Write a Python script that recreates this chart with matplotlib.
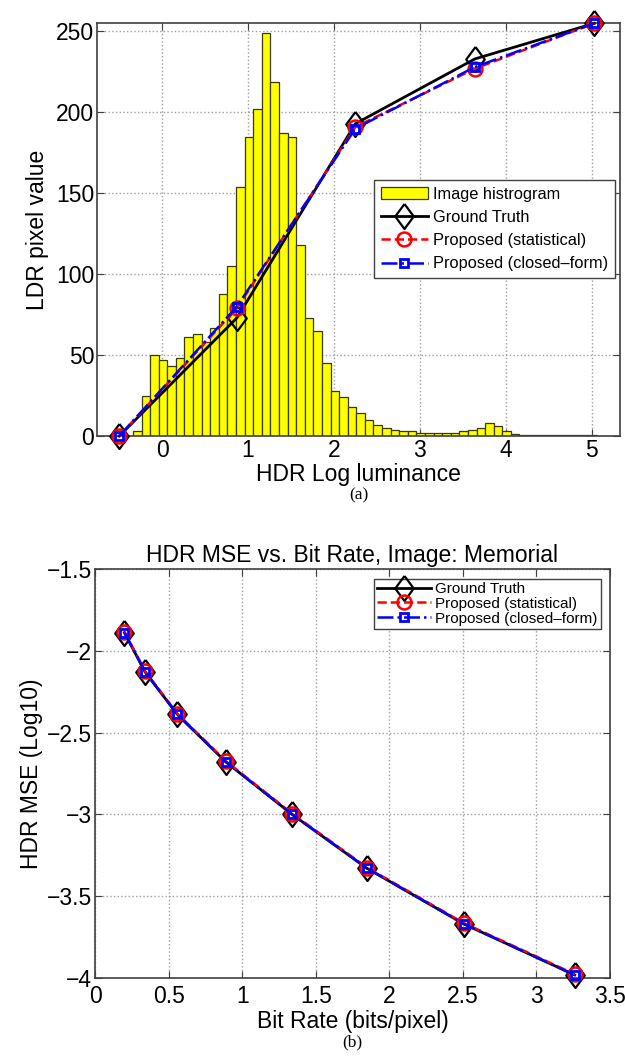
import matplotlib
matplotlib.use('Agg')
import matplotlib.pyplot as plt
import numpy as np

plt.rcParams['font.family'] = ['Liberation Sans', 'DejaVu Sans']

# ---- (a) tone curve + histogram ----
hist_start = -0.34   # left edge of first bin
hist_width = 0.1
hist_counts = [3, 25, 50, 47, 43, 48, 61, 63, 58, 67,
               88, 105, 154, 185, 202, 249, 219, 187, 185, 118,
               73, 65, 45, 28, 24, 18, 14, 10, 7, 5,
               4, 3, 3, 2, 2, 2, 2, 2, 3, 4,
               5, 8, 6, 3, 1, 0.5, 0.5, 0.5, 0.5, 0.5,
               0.5, 0.5, 0.5, 0.5]

curve_x = [-0.5, 0.87, 2.25, 3.64, 5.03]
gt_ldr = [0, 73, 193, 233, 255]
stat_ldr = [0, 79, 191, 227, 255]
cf_ldr = [0, 80, 190, 228, 255]

# ---- (b) MSE vs bit rate ----
bitrate = [0.2, 0.34, 0.56, 0.89, 1.34, 1.85, 2.51, 3.26]
gt_mse = [-1.89, -2.13, -2.39, -2.68, -3.0, -3.33, -3.67, -3.98]
stat_mse = [-1.885, -2.125, -2.385, -2.675, -2.995, -3.325, -3.665, -3.975]
cf_mse = [-1.89, -2.13, -2.39, -2.68, -3.0, -3.33, -3.67, -3.98]

FS = 16.5
spine_col = '#404040'
# MATLAB-like diamond, a bit taller than wide
diamond = [(0, 1), (0.74, 0), (0, -1), (-0.74, 0), (0, 1)]

fig = plt.figure(figsize=(6.25, 10.61), dpi=100)


def style_axes(ax):
    ax.tick_params(direction='in', top=True, right=True, labelsize=FS,
                   length=5, color=spine_col, pad=2)
    for s in ax.spines.values():
        s.set_color(spine_col)
        s.set_linewidth(1.2)
    ax.grid(True, linestyle=':', color='#a0a0a0', linewidth=1.0)
    ax.set_axisbelow(True)


def draw_curves(ax, x, gt, st, cf):
    h1, = ax.plot(x, gt, '-', color='black', lw=2, marker=diamond, ms=18,
                  mfc='none', mec='black', mew=1.6, label='Ground Truth',
                  clip_on=False, zorder=3)
    h2, = ax.plot(x, st, '--', color='red', lw=1.8, marker='o', ms=10,
                  mfc='none', mec='red', mew=1.8, label='Proposed (statistical)',
                  clip_on=False, zorder=3)
    h3, = ax.plot(x, cf, '-.', color='blue', lw=1.8, marker='s', ms=5.5,
                  mfc='none', mec='blue', mew=2, label='Proposed (closed\u2013form)',
                  clip_on=False, zorder=3)
    return [h1, h2, h3]


# top axes
ax1 = fig.add_axes([0.155, 0.589, 0.837, 0.389])
centers = [hist_start + hist_width * (i + 0.5) for i in range(len(hist_counts))]
bars = ax1.bar(centers, hist_counts, width=hist_width, color='#ffff00',
               edgecolor='#3a3a10', linewidth=0.9, label='Image histrogram')
lines1 = draw_curves(ax1, curve_x, gt_ldr, stat_ldr, cf_ldr)
ax1.set_xlim(-0.76, 5.33)
ax1.set_ylim(0, 255)
ax1.set_xticks([0, 1, 2, 3, 4, 5])
ax1.set_yticks([0, 50, 100, 150, 200, 250])
style_axes(ax1)
ax1.set_xlabel('HDR Log luminance', fontsize=FS, labelpad=0.5)
ax1.set_ylabel('LDR pixel value', fontsize=FS, labelpad=5)
leg1 = ax1.legend([bars] + lines1, [bars.get_label()] + [l.get_label() for l in lines1],
                  loc='upper left', bbox_to_anchor=(0.53, 0.62), fontsize=11.8,
                  fancybox=False, edgecolor=spine_col, framealpha=1,
                  borderpad=0.4, labelspacing=0.5, handlelength=2.9,
                  handletextpad=0.3, borderaxespad=0)
leg1.get_frame().set_linewidth(1.0)
leg1.set_zorder(5)

# bottom axes
ax2 = fig.add_axes([0.152, 0.078, 0.824, 0.386])
lines2 = draw_curves(ax2, bitrate, gt_mse, stat_mse, cf_mse)
ax2.set_xlim(0, 3.5)
ax2.set_ylim(-4, -1.5)
ax2.set_xticks([0, 0.5, 1, 1.5, 2, 2.5, 3, 3.5])
ax2.set_xticklabels(['0', '0.5', '1', '1.5', '2', '2.5', '3', '3.5'])
ax2.set_yticks([-4, -3.5, -3, -2.5, -2, -1.5])
ax2.set_yticklabels(['\u22124', '\u22123.5', '\u22123', '\u22122.5', '\u22122', '\u22121.5'])
style_axes(ax2)
ax2.tick_params(axis='x', pad=5)
ax2.set_xlabel('Bit Rate (bits/pixel)', fontsize=FS, labelpad=1)
ax2.set_ylabel('HDR MSE (Log10)', fontsize=FS, labelpad=3)
ax2.set_title('HDR MSE vs. Bit Rate, Image: Memorial', fontsize=FS, pad=5)
leg2 = ax2.legend(loc='upper right', bbox_to_anchor=(0.982, 0.975), fontsize=11,
                  fancybox=False, edgecolor=spine_col, framealpha=1,
                  borderpad=0.2, labelspacing=0.05, handlelength=3.5,
                  handletextpad=0.3, borderaxespad=0)
leg2.get_frame().set_linewidth(1.0)
leg2.set_zorder(5)

# sub-figure captions just under the x labels
fig.canvas.draw()
renderer = fig.canvas.get_renderer()
for ax, tag in [(ax1, '(a)'), (ax2, '(b)')]:
    bb = ax.xaxis.label.get_window_extent(renderer)
    y = bb.y0 / fig.bbox.height - 2 / 1061
    fig.text((bb.x0 + bb.x1) / 2 / fig.bbox.width, y, tag, ha='center', va='top',
             fontsize=12.5, family='Liberation Serif')

fig.savefig('out.png', dpi=100)
